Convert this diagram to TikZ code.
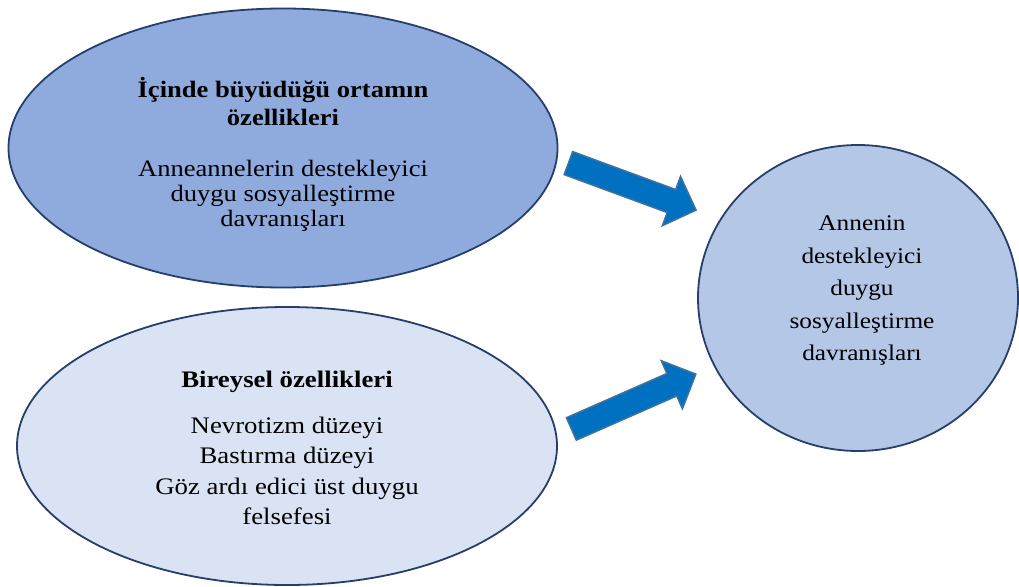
\documentclass[tikz,border=0pt]{standalone}
\usepackage{fontspec}
\setmainfont{Liberation Serif}
\usetikzlibrary{shapes.geometric,shapes.arrows}
\definecolor{outline}{HTML}{263F6A}
\definecolor{topfill}{HTML}{8FAADC}
\definecolor{botfill}{HTML}{DAE3F3}
\definecolor{momfill}{HTML}{B4C7E7}
\definecolor{arrowfill}{HTML}{0070C0}
\definecolor{arrowline}{HTML}{41719C}

\begin{document}
\begin{tikzpicture}[
  x=1pt, y=-1pt,
  bubble/.style={ellipse, draw=outline, line width=1.8pt, inner sep=0pt},
  txt/.style={align=center, transform shape, xscale=1.13, inner sep=0pt},
  blockarrow/.style={single arrow, draw=arrowline, line width=1.5pt, fill=arrowfill,
    inner xsep=0pt, inner ysep=11.5pt, minimum width=51pt, minimum height=136pt,
    single arrow head extend=14pt, single arrow tip angle=90}
  ]
\useasboundingbox (0,0) rectangle (1019,586);

% the three ellipses
\node[bubble, fill=topfill, minimum width=549pt, minimum height=279pt] (milieu) at (283,148) {};
\node[bubble, fill=botfill, minimum width=540pt, minimum height=278pt] (indiv) at (287,446) {};
\node[bubble, fill=momfill, minimum width=320pt, minimum height=306pt] (mother) at (858,298) {};

% texts
\node[txt, font=\fontsize{23.5}{25}\selectfont] (milieutxt) at (283,154)
  {\textbf{İçinde büyüdüğü ortamın}\\[3pt] \textbf{özellikleri}\\[26pt]
   Anneannelerin destekleyici\\ duygu sosyalleştirme\\ davranışları};
\node[txt, font=\fontsize{23.7}{30.5}\selectfont] (indivtxt) at (287,448)
  {\textbf{Bireysel özellikleri}\\[15.5pt] Nevrotizm düzeyi\\ Bastırma düzeyi\\
   Göz ardı edici üst duygu\\ felsefesi};
\node[txt, font=\fontsize{22.4}{32.5}\selectfont] (mothertxt) at (862,290.5)
  {Annenin\\ destekleyici\\ duygu\\ sosyalleştirme\\ davranışları};

% block arrows
\node[blockarrow, rotate=-20.2] (arrowtop) at (626.5,184.5) {};
\node[blockarrow, rotate=23.75] (arrowbot) at (628,404) {};

\end{tikzpicture}
\end{document}
